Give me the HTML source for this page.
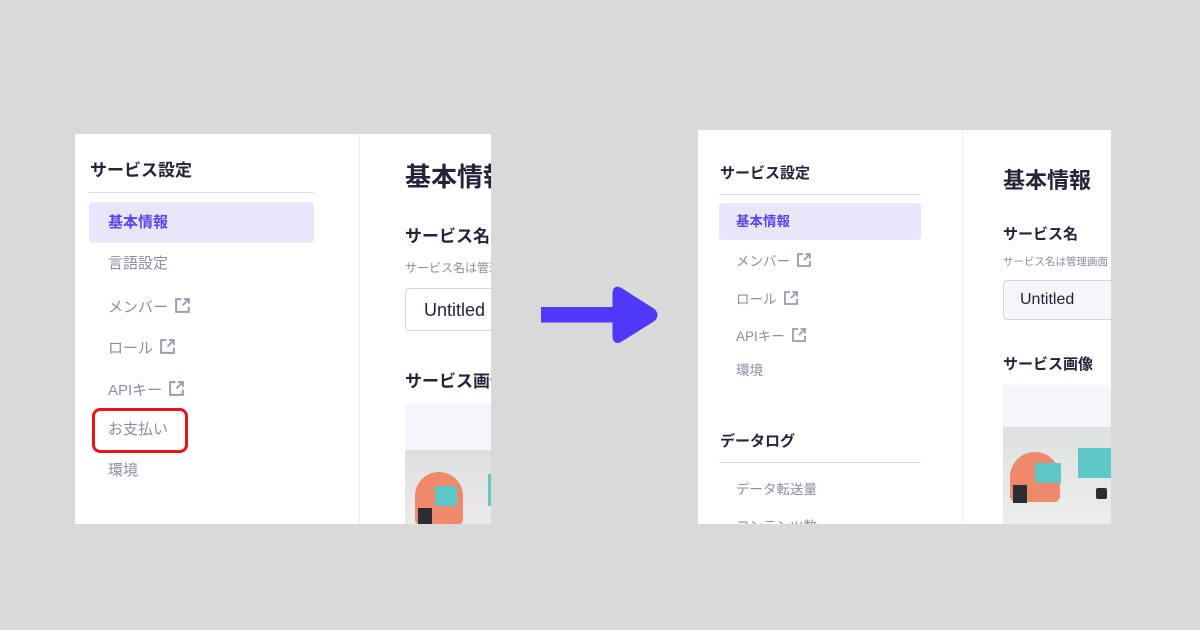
<!DOCTYPE html>
<html><head><meta charset="utf-8"><style>
*{margin:0;padding:0;box-sizing:border-box}
body{width:1200px;height:630px;background:#d9d9d9;position:relative;overflow:hidden;font-family:"Liberation Sans","Noto Sans CJK JP",sans-serif}
.p{position:absolute;background:#fff;overflow:hidden}
.t{position:absolute;white-space:nowrap;line-height:1}
.b{font-weight:bold;color:#23233a}
.g{color:#8c8ca3}
.ext{display:inline-block;vertical-align:-2px;margin-left:6px}
</style></head><body>
<svg width="0" height="0" style="position:absolute"><defs>
<symbol id="e" viewBox="0 0 16 16"><path d="M7 2 H2 V14 H14 V9" fill="none" stroke="#9a9ab0" stroke-width="1.8"/><path d="M8 8 L14 2 M9.5 2 H14 V6.5" fill="none" stroke="#9a9ab0" stroke-width="1.8"/></symbol>
</defs></svg>

<!-- Left panel -->
<div class="p" style="left:75px;top:134px;width:416px;height:390px">
  <div style="position:absolute;left:284px;top:0;width:1px;height:390px;background:#ececf0"></div>
  <div class="t b" style="left:15px;top:28px;font-size:17px">サービス設定</div>
  <div style="position:absolute;left:14px;top:58px;width:225px;height:1px;background:#dcdce2"></div>
  <div style="position:absolute;left:14px;top:68px;width:225px;height:41px;background:#e8e6fb;border-radius:4px"></div>
  <div class="t" style="left:33px;top:81px;font-size:15px;font-weight:bold;color:#5a45e8">基本情報</div>
  <div class="t g" style="left:33px;top:122px;font-size:15px">言語設定</div>
  <div class="t g" style="left:33px;top:163px;font-size:15px">メンバー<svg class="ext" width="17" height="17"><use href="#e"/></svg></div>
  <div class="t g" style="left:33px;top:204px;font-size:15px">ロール<svg class="ext" width="17" height="17"><use href="#e"/></svg></div>
  <div class="t g" style="left:33px;top:246px;font-size:15px">APIキー<svg class="ext" width="17" height="17"><use href="#e"/></svg></div>
  <div class="t g" style="left:33px;top:288px;font-size:15px">お支払い</div>
  <div style="position:absolute;left:17px;top:274px;width:96px;height:45px;border:3px solid #e8141b;border-radius:8px"></div>
  <div class="t g" style="left:33px;top:329px;font-size:15px">環境</div>

  <div class="t b" style="left:330px;top:30px;font-size:26px">基本情報</div>
  <div class="t b" style="left:330px;top:94px;font-size:17px">サービス名</div>
  <div class="t g" style="left:330px;top:128px;font-size:12px">サービス名は管理画面</div>
  <div style="position:absolute;left:330px;top:154px;width:120px;height:43px;border:1px solid #d4d4dc;border-radius:4px"></div>
  <div class="t" style="left:349px;top:167px;font-size:18px;color:#23233a">Untitled</div>
  <div class="t b" style="left:330px;top:239px;font-size:17px">サービス画像</div>
  <div style="position:absolute;left:330px;top:270px;width:100px;height:120px;background:#f5f6fa"></div>
  <div style="position:absolute;left:330px;top:316px;width:100px;height:74px;background:linear-gradient(180deg,#dfe0e0,#eaeaea)"></div>
  <div style="position:absolute;left:340px;top:338px;width:48px;height:52px;background:#ee8a6a;border-radius:24px 24px 4px 4px"></div>
  <div style="position:absolute;left:360px;top:352px;width:22px;height:20px;background:#5ec8c6"></div>
  <div style="position:absolute;left:343px;top:374px;width:14px;height:16px;background:#2c2c34"></div>
  <div style="position:absolute;left:413px;top:340px;width:4px;height:32px;background:#5ec8c6"></div>
</div>

<!-- Arrow -->
<svg style="position:absolute;left:0;top:0" width="1200" height="630">
  <rect x="541" y="307" width="80" height="15.5" fill="#5038fb"/>
  <path d="M620 290 Q615 287 615 294 L615 336 Q615 343 621 339 L653 319 Q657 315 653 311 Z" fill="#5038fb" stroke="#5038fb" stroke-width="5" stroke-linejoin="round"/>
</svg>

<!-- Right panel -->
<div class="p" style="left:698px;top:130px;width:413px;height:394px">
  <div style="position:absolute;left:264px;top:0;width:1px;height:394px;background:#ececf0"></div>
  <div class="t b" style="left:22px;top:36px;font-size:15px">サービス設定</div>
  <div style="position:absolute;left:21px;top:64px;width:202px;height:1px;background:#dcdce2"></div>
  <div style="position:absolute;left:21px;top:73px;width:202px;height:37px;background:#e8e6fb;border-radius:4px"></div>
  <div class="t" style="left:38px;top:85px;font-size:13.5px;font-weight:bold;color:#5a45e8">基本情報</div>
  <div class="t g" style="left:38px;top:122px;font-size:13.5px">メンバー<svg class="ext" width="16" height="16"><use href="#e"/></svg></div>
  <div class="t g" style="left:38px;top:160px;font-size:13.5px">ロール<svg class="ext" width="16" height="16"><use href="#e"/></svg></div>
  <div class="t g" style="left:38px;top:197px;font-size:13.5px">APIキー<svg class="ext" width="16" height="16"><use href="#e"/></svg></div>
  <div class="t g" style="left:38px;top:234px;font-size:13.5px">環境</div>
  <div class="t b" style="left:22px;top:304px;font-size:15px">データログ</div>
  <div style="position:absolute;left:21px;top:332px;width:202px;height:1px;background:#dcdce2"></div>
  <div class="t g" style="left:38px;top:353px;font-size:13.5px">データ転送量</div>
  <div class="t g" style="left:38px;top:390px;font-size:13.5px">コンテンツ数</div>

  <div class="t b" style="left:305px;top:40px;font-size:22px">基本情報</div>
  <div class="t b" style="left:305px;top:97px;font-size:15px">サービス名</div>
  <div class="t g" style="left:305px;top:127px;font-size:10.5px">サービス名は管理画面</div>
  <div style="position:absolute;left:305px;top:150px;width:120px;height:40px;border:1px solid #d4d4dc;border-radius:4px;background:#f6f7fb"></div>
  <div class="t" style="left:322px;top:162px;font-size:16px;color:#23233a">Untitled</div>
  <div class="t b" style="left:305px;top:227px;font-size:15px">サービス画像</div>
  <div style="position:absolute;left:305px;top:255px;width:120px;height:139px;background:#f5f6fa"></div>
  <div style="position:absolute;left:305px;top:297px;width:120px;height:97px;background:linear-gradient(180deg,#dfe0e0,#eceded)"></div>
  <div style="position:absolute;left:312px;top:322px;width:50px;height:50px;background:#ee8a6a;border-radius:25px 25px 6px 6px"></div>
  <div style="position:absolute;left:337px;top:333px;width:26px;height:20px;background:#5ec8c6"></div>
  <div style="position:absolute;left:315px;top:355px;width:14px;height:18px;background:#2c2c34"></div>
  <div style="position:absolute;left:380px;top:318px;width:40px;height:30px;background:#5ec8c6"></div>
  <div style="position:absolute;left:398px;top:358px;width:11px;height:11px;background:#2c2c34;border-radius:2px"></div>
</div>
</body></html>
